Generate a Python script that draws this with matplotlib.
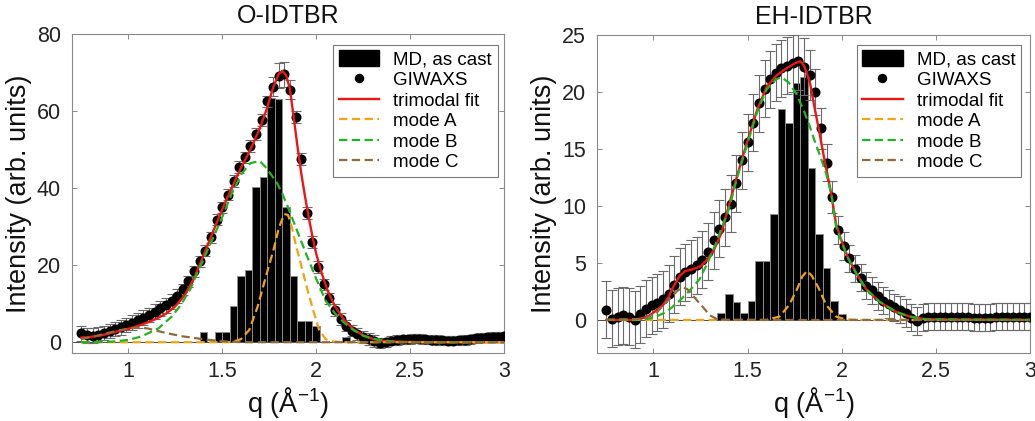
import numpy as np
import matplotlib
matplotlib.use("Agg")
import matplotlib.pyplot as plt
from matplotlib import font_manager as fm
from matplotlib.lines import Line2D
from matplotlib.patches import Patch

# ---------------- data ----------------
# GIWAXS sampling grid (same for both films)
giwaxs_q = np.round(np.arange(0.75, 3.0001, 0.03), 2)

# ---- O-IDTBR ----
md_q_O = [1.40, 1.48, 1.52, 1.56, 1.60, 1.64, 1.68, 1.72, 1.76, 1.80, 1.84, 1.88, 1.92, 1.96, 2.00, 2.16]
md_O = [2.6, 2.6, 2.6, 9.4, 17.3, 18.7, 40.3, 42.8, 63.5, 63.0, 35.0, 17.3, 5.4, 5.4, 4.1, 1.3]

giwaxs_O = [2.3, 1.8, 1.7, 2.0, 2.4, 2.9, 3.4, 3.9, 4.5, 5.1,
            5.7, 6.4, 7.1, 7.9, 8.8, 9.6, 10.6, 12.0, 13.7, 15.8,
            18.4, 21.0, 23.8, 27.2, 31.8, 35.0, 38.3, 41.8, 45.5, 48.0,
            51.0, 54.0, 57.7, 62.5, 66.3, 69.2, 69.5, 65.5, 58.5, 47.5,
            33.5, 26.0, 19.5, 15.0, 11.4, 8.3, 6.0, 4.3, 3.0, 2.1,
            1.4, 0.8, 0.3, -0.2, 0.0, 0.4, 0.6, 0.8, 0.8, 0.9,
            0.9, 0.8, 0.7, 0.6, 0.5, 0.4, 0.4, 0.5, 0.6, 0.8,
            1.0, 1.2, 1.3, 1.4, 1.4, 1.5]
giwaxs_err_O = [1.9] * 18 + [1.5] * 16 + [2.5, 3.3, 3.3, 2.5] + [1.5] * 15 + [1.2] * 23

fit_q_O = [0.75, 0.80, 0.85, 0.90, 0.95, 1.00, 1.05, 1.10, 1.15, 1.20, 1.25, 1.30, 1.35, 1.40, 1.45,
           1.50, 1.55, 1.60, 1.65, 1.70, 1.74, 1.77, 1.80, 1.82, 1.84, 1.86, 1.88, 1.90, 1.92, 1.94,
           1.96, 1.98, 2.00, 2.03, 2.06, 2.10, 2.15, 2.20, 2.25, 2.30, 2.35, 2.45, 2.60, 3.00]
fit_O = [1.2, 1.4, 1.7, 2.3, 2.9, 3.5, 4.2, 5.1, 6.1, 7.4, 9.3, 12.2, 16.6, 22.5, 28.6,
         34.5, 40.0, 45.3, 50.0, 55.5, 61.0, 66.0, 69.6, 70.4, 69.3, 65.8, 58.5, 51.0, 44.0, 38.0,
         32.5, 27.5, 23.0, 17.8, 13.5, 9.3, 5.7, 3.3, 1.8, 0.9, 0.4, 0.1, 0.0, 0.0]

modeA_q_O = [0.75, 1.55, 1.60, 1.644, 1.688, 1.732, 1.777, 1.80, 1.83, 1.85,
             1.87, 1.892, 1.927, 1.954, 1.989, 2.016, 2.05, 2.09, 2.15, 3.00]
modeA_O = [0.0, 0.0, 0.8, 3.2, 9.2, 17.0, 24.7, 29.5, 33.3, 33.0,
           30.0, 25.2, 18.7, 13.5, 7.5, 3.2, 0.8, 0.2, 0.0, 0.0]

modeB_q_O = [0.75, 0.90, 1.00, 1.07, 1.16, 1.23, 1.28, 1.33, 1.36, 1.40, 1.45, 1.50, 1.55, 1.60, 1.65,
             1.70, 1.73, 1.76, 1.79, 1.82, 1.85, 1.89, 1.95, 2.00, 2.05, 2.10, 2.15, 2.20, 2.25, 2.30,
             2.40, 2.50, 3.00]
modeB_O = [0.0, 0.1, 0.6, 1.5, 3.6, 6.6, 9.7, 13.8, 17.2, 21.5, 27.0, 32.5, 38.5, 43.5, 46.5,
           47.0, 45.5, 43.5, 41.5, 38.5, 35.0, 30.0, 22.5, 16.5, 10.8, 7.5, 5.0, 3.1, 1.7, 0.9,
           0.2, 0.0, 0.0]

modeC_q_O = [0.75, 0.80, 0.85, 0.90, 0.95, 1.00, 1.05, 1.10, 1.15, 1.20, 1.25, 1.29, 1.34, 1.38,
             1.45, 1.52, 1.60, 3.00]
modeC_O = [0.8, 1.3, 1.9, 2.5, 3.1, 3.5, 3.8, 3.6, 3.0, 2.4, 1.9, 1.5, 1.2, 0.9,
           0.5, 0.2, 0.0, 0.0]

# ---- EH-IDTBR ----
md_q_EH = [1.36, 1.40, 1.44, 1.48, 1.52, 1.56, 1.60, 1.64, 1.68, 1.72, 1.76, 1.80, 1.84, 1.88, 1.92, 1.96, 2.00]
md_EH = [0.6, 2.3, 1.6, 0.6, 1.7, 5.2, 5.2, 9.3, 18.5, 17.3, 20.8, 21.3, 13.3, 7.5, 4.6, 1.7, 0.5]

giwaxs_EH = [0.9, 0.1, 0.3, 0.4, 0.3, 0.0, 0.5, 1.0, 1.3, 1.5,
             1.8, 2.3, 3.1, 3.8, 4.2, 4.5, 4.8, 5.3, 6.0, 7.0,
             8.0, 9.0, 10.2, 12.0, 14.0, 15.6, 17.3, 19.0, 20.3, 21.1,
             21.7, 22.1, 22.3, 22.5, 22.7, 22.2, 21.5, 20.0, 16.8, 13.8,
             10.8, 7.9, 6.5, 5.4, 4.5, 3.7, 3.0, 2.6, 2.1, 1.7,
             1.4, 1.1, 0.9, 0.6, 0.2, -0.1, 0.2, 0.3, 0.3, 0.3,
             0.3, 0.3, 0.3, 0.3, 0.3, 0.2, 0.2, 0.2, 0.2, 0.3,
             0.3, 0.3, 0.3, 0.3, 0.3, 0.3]
giwaxs_err_EH = [2.5] * 36 + [2.2, 2.0, 1.8, 1.6, 1.4] + [1.2] * 35

fit_q_EH = [0.75, 0.90, 0.95, 0.98, 1.02, 1.05, 1.08, 1.105, 1.14, 1.17, 1.20, 1.25, 1.28, 1.32, 1.36,
            1.40, 1.44, 1.49, 1.55, 1.60, 1.65, 1.70, 1.75, 1.78, 1.80, 1.83, 1.856, 1.883, 1.91, 1.945,
            1.97, 2.00, 2.03, 2.08, 2.13, 2.20, 2.29, 2.36, 2.45, 3.00]
fit_EH = [0.0, 0.0, 0.2, 0.4, 0.9, 1.3, 2.0, 2.9, 3.9, 4.3, 4.4, 4.7, 5.2, 6.1, 7.6,
          10.0, 12.4, 15.2, 18.4, 20.4, 21.4, 22.0, 22.5, 22.7, 22.3, 20.9, 18.6, 16.3, 13.9, 11.0,
          8.4, 6.9, 5.6, 4.0, 2.7, 1.6, 0.7, 0.3, 0.05, 0.0]

modeA_q_EH = [0.75, 1.60, 1.67, 1.72, 1.76, 1.79, 1.815, 1.84, 1.874, 1.918, 1.97, 2.02, 2.10, 3.00]
modeA_EH = [0.0, 0.0, 0.3, 1.3, 2.6, 3.8, 4.3, 3.9, 2.9, 1.3, 0.3, 0.05, 0.0, 0.0]

modeB_q_EH = [0.75, 0.95, 1.00, 1.069, 1.14, 1.193, 1.246, 1.29, 1.326, 1.40, 1.45, 1.50, 1.55, 1.60, 1.65,
              1.68, 1.72, 1.76, 1.80, 1.83, 1.856, 1.883, 1.918, 1.945, 1.97, 2.00, 2.03, 2.08, 2.13, 2.20,
              2.29, 2.36, 2.45, 3.00]
modeB_EH = [0.0, 0.05, 0.2, 0.7, 1.7, 2.6, 3.6, 5.1, 6.5, 9.7, 12.8, 15.5, 18.2, 20.2, 21.1,
            21.3, 20.8, 19.8, 18.3, 17.0, 15.7, 14.5, 12.8, 11.0, 8.2, 6.8, 5.5, 4.0, 2.7, 1.6,
            0.7, 0.3, 0.05, 0.0]

modeC_q_EH = [0.75, 0.95, 1.014, 1.059, 1.105, 1.13, 1.156, 1.18, 1.211, 1.264, 1.30, 1.34, 1.40, 3.00]
modeC_EH = [0.0, 0.1, 0.6, 1.4, 2.2, 2.6, 2.85, 2.7, 2.1, 1.1, 0.4, 0.05, 0.0, 0.0]

titles = ["O-IDTBR", "EH-IDTBR"]
legend_labels = ["MD, as cast", "GIWAXS", "trimodal fit", "mode A", "mode B", "mode C"]
xticks = [1, 1.5, 2, 2.5, 3]
xticklabels = ["1", "1.5", "2", "2.5", "3"]
yticks_O = [0, 20, 40, 60, 80]
yticks_EH = [0, 5, 10, 15, 20, 25]

# ---------------- style ----------------
names = {f.name for f in fm.fontManager.ttflist}
NARROW = "Liberation Sans Narrow" if "Liberation Sans Narrow" in names else "Liberation Sans"
REG = "Liberation Sans"
plt.rcParams["font.family"] = [NARROW, "DejaVu Sans"]
plt.rcParams["mathtext.fontset"] = "custom"
plt.rcParams["mathtext.rm"] = NARROW
plt.rcParams["mathtext.default"] = "regular"
plt.rcParams["lines.scale_dashes"] = False

C_RED = "#ee1515"
C_ORANGE = "#f2a30f"
C_GREEN = "#1fb51f"
C_BROWN = "#8e6b3e"
C_AXIS = "#8a8a8a"
C_ERR = "#6a6a6a"
DASH = (6.0, 3.2)

W, H = 1035, 421
fig = plt.figure(figsize=(W / 100, H / 100), dpi=100)

ax_pos = [
    [72 / W, (H - 353) / H, 432 / W, (353 - 34) / H],
    [597 / W, (H - 353) / H, 433 / W, (353 - 35) / H],
]

panels = [
    dict(md_q=md_q_O, md=md_O, g=giwaxs_O, ge=giwaxs_err_O, fq=fit_q_O, f=fit_O,
         aq=modeA_q_O, a=modeA_O, bq=modeB_q_O, b=modeB_O, cq=modeC_q_O, c=modeC_O,
         ylim=(-2.8, 80), yticks=yticks_O, leg=(0.985, 0.966)),
    dict(md_q=md_q_EH, md=md_EH, g=giwaxs_EH, ge=giwaxs_err_EH, fq=fit_q_EH, f=fit_EH,
         aq=modeA_q_EH, a=modeA_EH, bq=modeB_q_EH, b=modeB_EH, cq=modeC_q_EH, c=modeC_EH,
         ylim=(-2.9, 25), yticks=yticks_EH, leg=(0.979, 0.969)),
]

for i, p in enumerate(panels):
    ax = fig.add_axes(ax_pos[i])
    ax.bar(p["md_q"], p["md"], width=0.04, color="black", edgecolor="#8c8c8c",
           linewidth=0.7, zorder=2)
    ax.axhline(0, color="#4d4d4d", lw=0.7, zorder=2.2)
    ax.errorbar(giwaxs_q, p["g"], yerr=p["ge"], fmt="none", ecolor=C_ERR,
                elinewidth=0.8, capsize=3.4, capthick=0.8, zorder=3)
    ax.plot(giwaxs_q, p["g"], "o", color="black", markersize=6.2, zorder=3.5)
    ax.plot(p["fq"], p["f"], "-", color=C_RED, lw=1.7, zorder=4)
    for qq, vv, col, z in [(p["aq"], p["a"], C_ORANGE, 5), (p["bq"], p["b"], C_GREEN, 5.1),
                           (p["cq"], p["c"], C_BROWN, 5.2)]:
        ln, = ax.plot(qq, vv, "--", color=col, lw=1.6, zorder=z)
        ln.set_dashes(DASH)

    ax.set_xlim(0.7, 3.0)
    ax.set_ylim(*p["ylim"])
    ax.set_xticks(xticks)
    ax.set_xticklabels(xticklabels)
    ax.set_yticks(p["yticks"])
    ax.tick_params(direction="in", top=True, right=True, length=3.6, width=0.7,
                   color=C_AXIS, labelsize=15.5, labelcolor="#222222")
    ax.tick_params(axis="y", pad=8)
    ax.tick_params(axis="x", pad=6)
    for s in ax.spines.values():
        s.set_color(C_AXIS)
        s.set_linewidth(0.8)

    ax.set_title(titles[i], fontsize=18, color="#111111", pad=8)
    ax.set_xlabel("q (Å$^{-1}$)", fontsize=19.5, color="#111111")
    ax.xaxis.set_label_coords(0.5, -0.1)
    ax.set_ylabel("Intensity (arb. units)", fontsize=19.5, color="#111111", family=[REG, "DejaVu Sans"])
    ax.yaxis.set_label_coords(-0.092, 0.5)

    dash_handles = []
    for col in (C_ORANGE, C_GREEN, C_BROWN):
        h = Line2D([], [], color=col, lw=1.6, linestyle="--")
        h.set_dashes(DASH)
        dash_handles.append(h)
    handles = [Patch(facecolor="black", edgecolor="black"),
               Line2D([], [], marker="o", color="black", linestyle="none", markersize=5.8),
               Line2D([], [], color=C_RED, lw=1.7)] + dash_handles
    leg = ax.legend(handles, legend_labels, loc="upper right", bbox_to_anchor=p["leg"],
                    borderaxespad=0, fontsize=13.5, frameon=True, fancybox=False,
                    edgecolor="#7a7a7a", framealpha=1, handlelength=2.15, handleheight=0.9,
                    handletextpad=0.75, labelspacing=0.12, borderpad=0.3)
    leg.get_frame().set_linewidth(0.8)
    leg.set_zorder(10)

fig.savefig("out.png", dpi=100)
